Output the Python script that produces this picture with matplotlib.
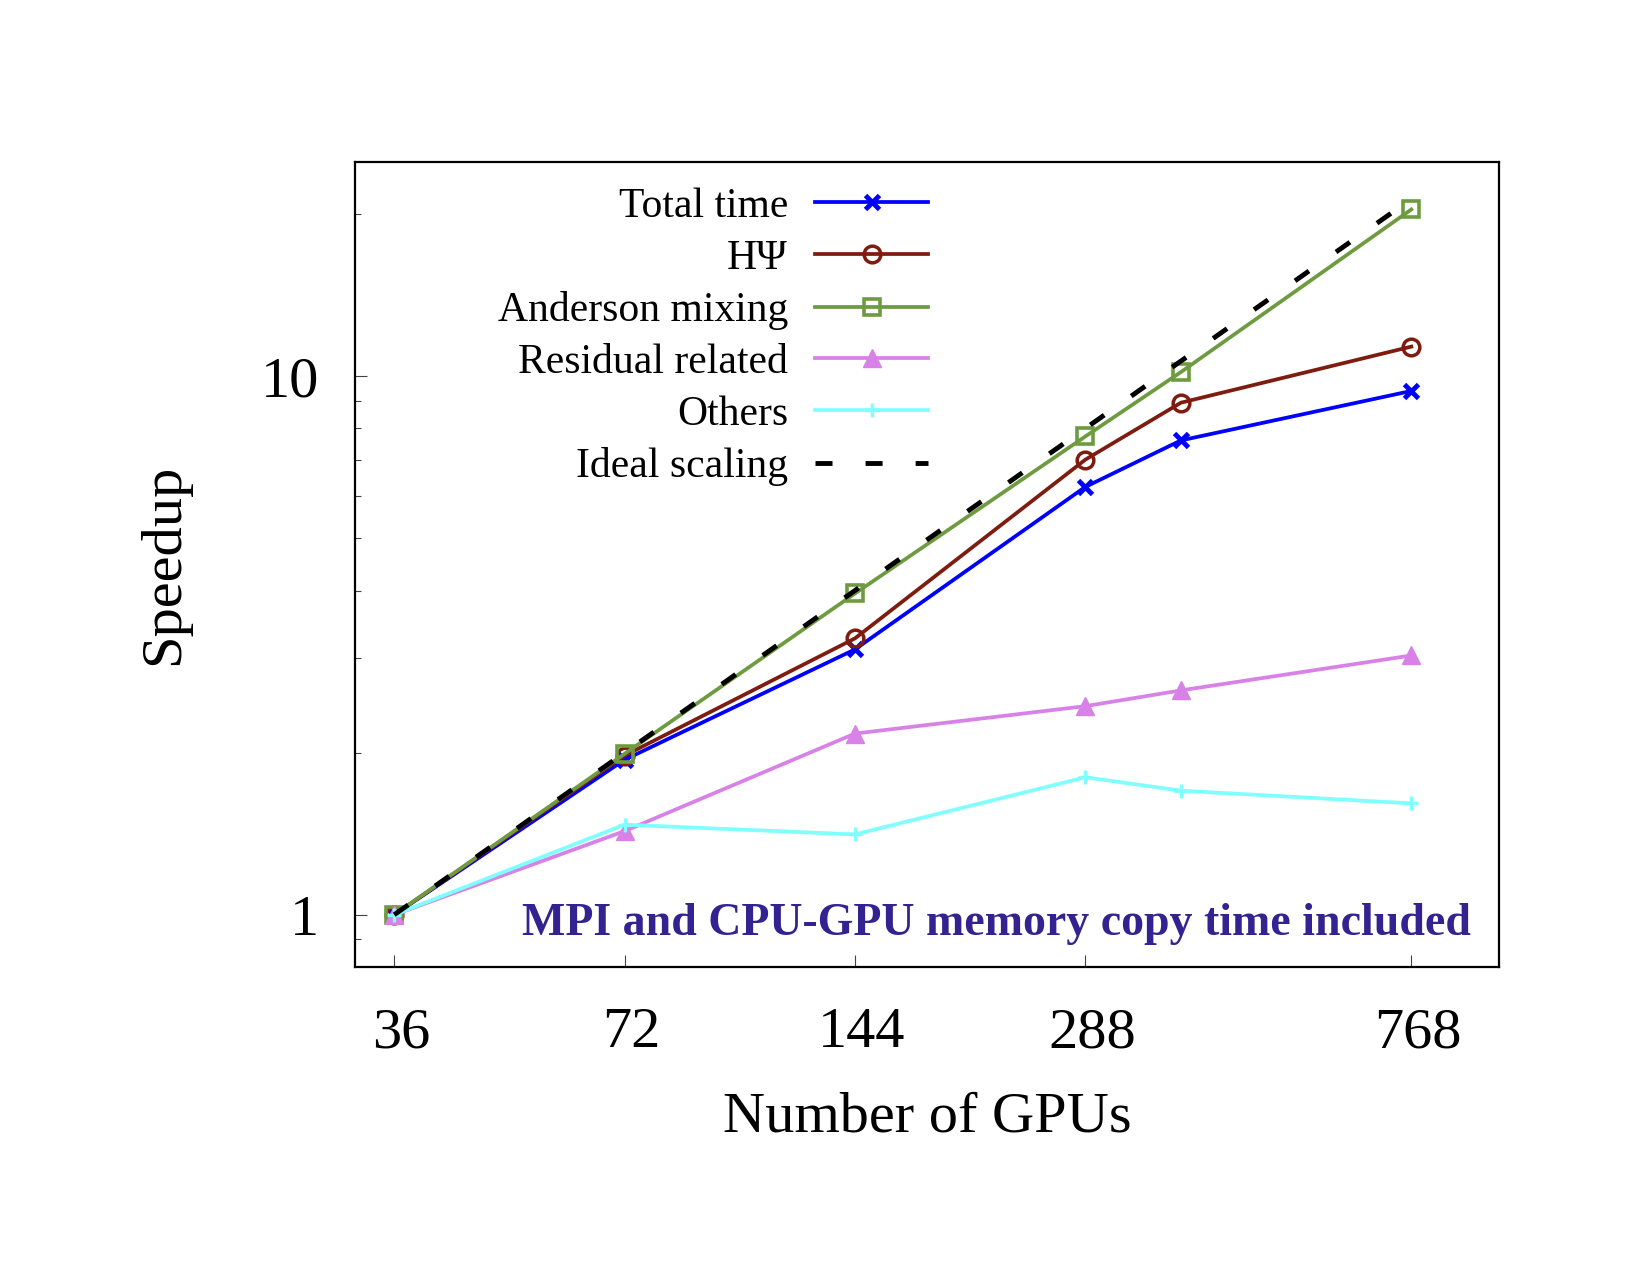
import matplotlib
matplotlib.use("Agg")
import matplotlib.pyplot as plt
import matplotlib.transforms as mtransforms

plt.rcParams['font.family'] = ['Liberation Serif', 'DejaVu Serif']

gpus = [36, 72, 144, 288, 384, 768]
xtick_vals = [36, 72, 144, 288, 768]
xtick_labels = ['36', '72', '144', '288', '768']

total_time = [1.0, 1.94, 3.11, 6.23, 7.60, 9.39]
h_psi = [1.0, 1.975, 3.26, 7.0, 8.93, 11.35]
anderson = [1.0, 1.99, 3.95, 7.73, 10.18, 20.4]
residual = [1.0, 1.43, 2.17, 2.44, 2.61, 3.03]
others = [1.0, 1.47, 1.41, 1.80, 1.70, 1.61]
ideal = [1.0, 2.0, 4.0, 8.0, 10.67, 21.33]

fig = plt.figure(figsize=(16.5, 12.75), dpi=100)
ax = fig.add_axes([0.2152, 0.2416, 0.6933, 0.6314])

lw = 2.7
ax.plot(gpus, total_time, color='#0000ff', lw=lw, marker='x', ms=10, mew=3.5,
        label='Total time')
ax.plot(gpus, h_psi, color='#7f1c10', lw=lw, marker='o', ms=12, mew=2.5,
        mfc='none', label='HΨ')
ax.plot(gpus, anderson, color='#6f9b40', lw=lw, marker='s', ms=11, mew=2.6,
        mfc='none', label='Anderson mixing')
ax.plot(gpus, residual, color='#d882e8', lw=lw, marker='^', ms=12.5, mew=1,
        label='Residual related')
ax.plot(gpus, others, color='#80ffff', lw=lw, marker='+', ms=9.5, mew=2.4,
        label='Others')
ax.plot(gpus, ideal, color='black', lw=3.5, dashes=(3.5, 6.8),
        label='Ideal scaling')

ax.set_xscale('log')
ax.set_yscale('log')
ax.set_xlim(32, 1000)
ax.set_ylim(0.8, 25)

ax.set_xticks(xtick_vals)
ax.set_xticklabels(xtick_labels)
ax.xaxis.set_minor_locator(matplotlib.ticker.NullLocator())
ax.set_yticks([1, 10])
ax.set_yticklabels(['1', '10'])
ax.set_yticks([0.9, 2, 3, 4, 5, 6, 7, 8, 9, 20], minor=True)
ax.yaxis.set_minor_formatter(matplotlib.ticker.NullFormatter())

ax.tick_params(axis='both', which='major', direction='in', length=8.6,
               width=0.8, color='#444444', labelsize=42)
ax.tick_params(axis='both', which='minor', direction='in', length=4.3,
               width=0.8, color='#444444')
ax.tick_params(axis='x', which='major', pad=29)
ax.tick_params(axis='y', which='major', pad=26)
ax.tick_params(top=False, right=False, which='both')

offset = mtransforms.ScaledTranslation(7 / 100, 0, fig.dpi_scale_trans)
for lab in ax.get_xticklabels():
    lab.set_transform(lab.get_transform() + offset)

for sp in ax.spines.values():
    sp.set_linewidth(1.6)

ax.set_xlabel('Number of GPUs', fontsize=42, va='baseline')
ax.xaxis.set_label_coords(0.5, -0.205)
ax.set_ylabel('Speedup', fontsize=42, va='baseline')
ax.yaxis.set_label_coords(-0.1547, 0.5)

leg = ax.legend(loc='upper right', bbox_to_anchor=(0.5624, 0.853),
                bbox_transform=fig.transFigure, frameon=False, fontsize=30,
                markerfirst=False, numpoints=1, handlelength=2.71,
                handletextpad=0.65, labelspacing=0.32, borderpad=0,
                borderaxespad=0)

ax.text(0.9755, 0.0398, 'MPI and CPU-GPU memory copy time included',
        transform=ax.transAxes, ha='right', va='baseline', fontsize=33,
        fontweight='bold', color='#33228f')

fig.savefig('out.png', dpi=100)
